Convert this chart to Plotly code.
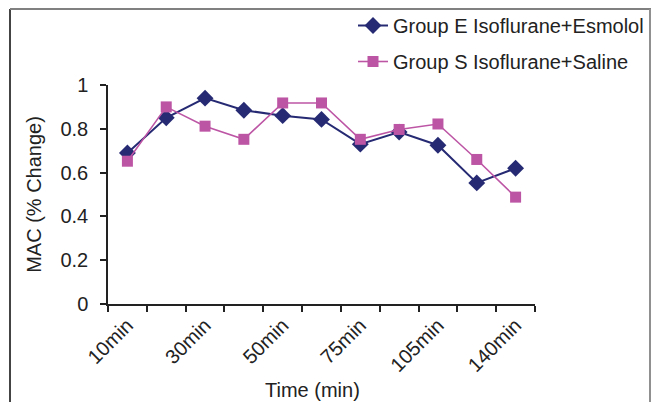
import plotly.graph_objects as go

categories = ["10min", "20min", "30min", "40min", "50min", "60min",
              "75min", "90min", "105min", "120min", "140min"]
shown_labels = ["10min", "", "30min", "", "50min", "",
                "75min", "", "105min", "", "140min"]
group_e = [0.69, 0.85, 0.94, 0.885, 0.86, 0.843, 0.73, 0.785, 0.725, 0.553, 0.62]
group_s = [0.652, 0.90, 0.812, 0.752, 0.918, 0.918, 0.752, 0.797, 0.822, 0.66, 0.488]
y_ticks = [0, 0.2, 0.4, 0.6, 0.8, 1]
y_tick_text = ["0", "0.2", "0.4", "0.6", "0.8", "1"]

NAVY = "#262A73"
MAGENTA = "#BD55A5"
FONT = "Liberation Sans, Arial, sans-serif"
FS = 20
TXT = "#222222"

fig = go.Figure()
fig.add_trace(go.Scatter(
    x=categories, y=group_e, mode="lines+markers",
    name="Group E Isoflurane+Esmolol", legendgroup="e",
    line=dict(color=NAVY, width=2),
    marker=dict(symbol="diamond", size=13, color=NAVY),
    cliponaxis=False,
))
fig.add_trace(go.Scatter(
    x=categories, y=group_s, mode="lines+markers",
    name="Group S Isoflurane+Saline", legendgroup="s",
    line=dict(color=MAGENTA, width=1.6),
    marker=dict(symbol="square", size=11, color=MAGENTA),
    cliponaxis=False,
))

# page body has an 8px margin on every side; size the figure so the page never scrolls
OFF = 8
W, H = 659 - 2 * OFF, 410 - 2 * OFF
L, T = 108 - OFF, 85 - OFF
pw, ph = 427, 219
R, B = W - L - pw, H - T - ph

def px(xs):
    return (xs - OFF - L) / pw

def py(ys):
    return (T + ph - (ys - OFF)) / ph

# figure border (left, top, right)
fig.add_shape(type="line", xref="paper", yref="paper",
              x0=px(10), x1=px(10), y0=py(9), y1=py(420),
              line=dict(color="#444444", width=2))
fig.add_shape(type="line", xref="paper", yref="paper",
              x0=px(10), x1=px(651), y0=py(9), y1=py(9),
              line=dict(color="#808080", width=2))
fig.add_shape(type="line", xref="paper", yref="paper",
              x0=px(650), x1=px(650), y0=py(9), y1=py(420),
              line=dict(color="#909090", width=2))

# x-axis title placed like the original
fig.add_annotation(text="Time (min)", xref="paper", yref="paper",
                   x=px(312), y=py(390), xanchor="center", yanchor="middle",
                   showarrow=False, font=dict(family=FONT, size=FS, color=TXT))

fig.update_layout(
    width=W, height=H,
    margin=dict(l=L, r=R, t=T, b=B, autoexpand=False),
    paper_bgcolor="white", plot_bgcolor="white",
    font=dict(family=FONT, size=FS, color=TXT),
    showlegend=True,
    legend=dict(x=px(353), y=py(6), xanchor="left", yanchor="top",
                bgcolor="rgba(0,0,0,0)", tracegroupgap=7,
                font=dict(family=FONT, size=FS, color=TXT)),
    xaxis=dict(
        type="category", categoryorder="array", categoryarray=categories,
        range=[-0.5, 10.5], automargin=False,
        tickmode="array", tickvals=categories, ticktext=shown_labels,
        tickson="boundaries", ticks="outside", ticklen=6, tickwidth=1.5,
        tickcolor=TXT, tickangle=-45,
        showline=True, linecolor=TXT, linewidth=1.5,
        showgrid=False, zeroline=False,
        tickfont=dict(family=FONT, size=FS, color=TXT),
    ),
    yaxis=dict(
        range=[0, 1], tickmode="array", tickvals=y_ticks, ticktext=y_tick_text,
        automargin=False,
        ticks="outside", ticklen=6, tickwidth=1.5, tickcolor=TXT,
        showline=True, linecolor=TXT, linewidth=1.5,
        showgrid=False, zeroline=False, ticklabelstandoff=8,
        tickfont=dict(family=FONT, size=FS, color=TXT),
        title=dict(text="MAC (% Change)", font=dict(family=FONT, size=FS, color=TXT),
                   standoff=13),
    ),
)

fig.write_html("out.html")
